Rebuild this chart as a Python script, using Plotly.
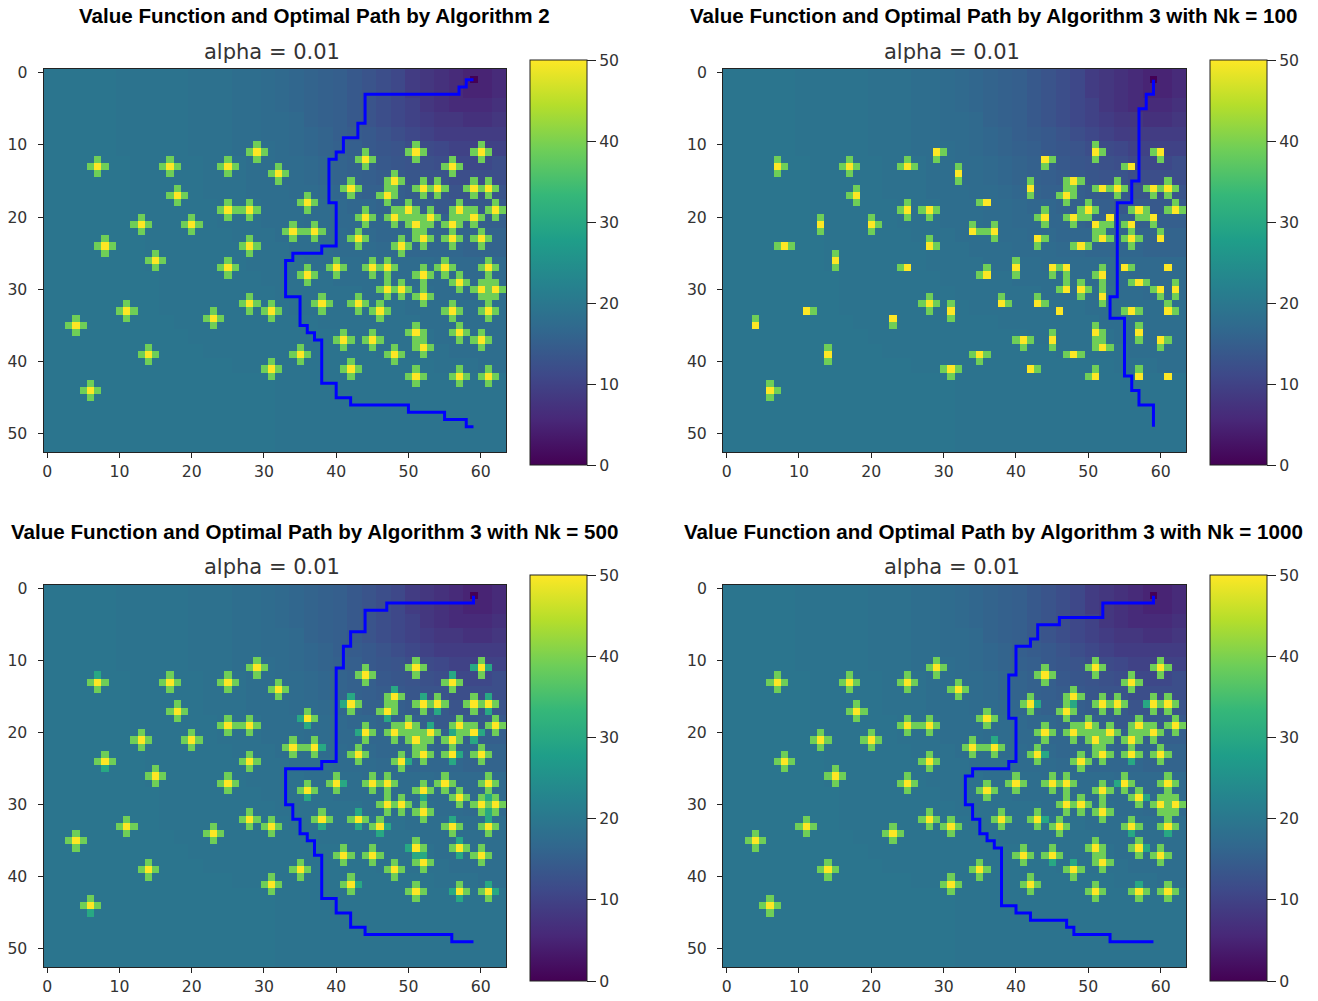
import numpy as np
import plotly.graph_objects as go

TITLES = ["Value Function and Optimal Path by Algorithm 2",
          "Value Function and Optimal Path by Algorithm 3 with Nk = 100",
          "Value Function and Optimal Path by Algorithm 3 with Nk = 500",
          "Value Function and Optimal Path by Algorithm 3 with Nk = 1000"]
SUBTITLE = "alpha = 0.01"
X_TICKS = [0, 10, 20, 30, 40, 50, 60]
Y_TICKS = [0, 10, 20, 30, 40, 50]
CBAR_TICKS = [0, 10, 20, 30, 40, 50]

# value read for each 2x2 block of cells; one character per block, base 36, capital = +0.5
BG_ROWS = [
    "JJJJJjjjjjIIIiiHhGgFfedcb9876556",
    "JJJJJjjjjjIIIiiHhGgFfedcb9876556",
    "JJJJJjjjjjIIIiiHhGgFfedcba876667",
    "JJJJJjjjjjIIIiiHHhgFfedcba988778",
    "JJJJJjjjjjIIIiiHHhGgfEedcba99999",
    "JJJJJjjjjjIIIiiiHhGgFfeDdcBbaaaa",
    "JJJJJJjjjjjIIIiiHHhGgFfeDdCcbbbc",
    "JJJJJJjjjjjIIIiiHHhGgFfEeDddcccc",
    "JJJJJJjjjjjIIIiiiHHhGgFFfEEedddd",
    "JJJJJJjjjjjjIIIiiiHHhGGgFFfeeeee",
    "JJJJJJjjjjjjIIIiiiHHhhGGgFFFffff",
    "JJJJJJJjjjjjjIIIiiiHHhhGGGGggggg",
    "JJJJJJJjjjjjjjIIIiiiHHHhhGGGGggg",
    "JJJJJJJjjjjjjjIIIIiiiiHHHHHhhhhh",
    "JJJJJJJJjjjjjjjIIIIIiiiiHHHHhhhh",
    "JJJJJJJJjjjjjjjjIIIIIIiiiiiHHhhh",
    "JJJJJJJJjjjjjjjjjIIIIIIIIiiiiiii",
    "JJJJJJJJJjjjjjjjjjjIIIIIIIiiiiii",
    "JJJJJJJJJJjjjjjjjjjjjIIIIIIiiiii",
    "JJJJJJJJJJJjjjjjjjjjjjjIIIIIiiii",
    "JJJJJJJJJJJJJjjjjjjjjjjjjjjIIIii",
    "JJJJJJJJJJJJJJJJjjjjjjjjjjjjjjjj",
    "JJJJJJJJJJJJJJJJjjjjjjjjjjjjjjjj",
    "JJJJJJJJJJJJJJJJjjjjjjjjjjjjjjjj",
    "JJJJJJJJJJJJJJJJjjjjjjjjjjjjjjjj",
    "JJJJJJJJJJJJJJJJjjjjjjjjjjjjjjjj",
    "JJJJJJJJJJJJJJJJjjjjjjjjjjjjjjjj",
]
GOAL = (59, 1)
GOAL_VALUE = 0
PEAK_VALUE = 50
ARM_VALUE = 39
LOW_ARM_VALUE = 30

PEAK_X = [29, 51, 60, 44, 7, 17, 25, 56, 32, 48, 42, 52, 54, 59, 61, 18, 47, 36, 25, 28, 50, 57, 62,
          44, 48, 53, 59, 13, 20, 51, 56, 34, 37, 43, 52, 56, 60, 8, 28, 49, 15, 25, 40, 45, 47, 55, 61,
          36, 52, 57, 47, 49, 60, 62, 52, 28, 38, 43, 11, 31, 46, 56, 61, 23, 4, 51, 57, 41, 45, 60,
          52, 14, 35, 48, 31, 42, 51, 57, 61, 6]
PEAK_Y = [11, 11, 11, 12, 13, 13, 13, 13, 14, 15, 16, 16, 16, 16, 16, 17, 17, 18, 19, 19, 19, 19, 19,
          20, 20, 20, 20, 21, 21, 21, 21, 22, 22, 23, 23, 23, 23, 24, 24, 24, 26, 27, 27, 27, 27, 27, 27,
          28, 28, 29, 30, 30, 30, 30, 31, 32, 32, 32, 33, 33, 33, 33, 33, 34, 35, 36, 36, 37, 37, 37,
          38, 39, 39, 39, 41, 41, 42, 42, 42, 44]
# arms visible around each peak in the Nk = 100 panel
ARMS_NK100 = ["SE", "NSE", "SW", "SE", "NSE", "NSEW", "NEW", "W", "NS", "SEW", "NS", "W", "NSEW", "SEW", "NSEW", "NSW", "NSEW", "W", "NSW", "SEW", "NSEW", "SEW", "NEW",
              "NSW", "SEW", "", "SW", "NS", "NSE", "ES", "SW", "NE", "NSW", "SE", "NEW", "NSEW", "N", "EW", "NE", "EW", "NS", "W", "NS", "SE", "SW", "E", "",
              "NW", "NSW", "EW", "NW", "NSE", "SW", "NS", "NS", "NSEW", "NE", "NE", "E", "NS", "", "EW", "NE", "S", "N", "NSE", "NS", "SEW", "NS", "SE",
              "NWE", "NS", "SEW", "EW", "SEW", "E", "NW", "N", "", "NSE"]
EXTRA_ARM_X = [61, 61]
EXTRA_ARM_Y = [29, 31]
EXTRA_ARM_NK100_X = [53]
EXTRA_ARM_NK100_Y = [21]
LOW_ARM_NK500_X = [59, 61, 56, 48, 42, 41, 52, 54, 61, 61, 47, 35, 36, 38, 53, 56, 59, 60, 43, 50, 57, 56, 41, 36, 52, 61, 61, 61, 38, 43, 43, 47, 46, 56, 57, 57, 50, 51, 52, 43, 57, 56, 62, 61, 7, 8, 6]
LOW_ARM_NK500_Y = [11, 11, 12, 14, 15, 16, 15, 17, 15, 17, 18, 18, 19, 22, 19, 20, 21, 20, 20, 24, 23, 24, 27, 29, 29, 29, 31, 32, 33, 31, 33, 33, 34, 32, 35, 37, 36, 37, 37, 41, 43, 42, 42, 41, 12, 25, 45]
LOW_ARM_NK1000_X = [37, 48, 43, 58, 44, 56, 54, 58, 44, 56, 61, 58, 45, 48, 57]
LOW_ARM_NK1000_Y = [21, 16, 16, 16, 23, 24, 27, 29, 32, 34, 34, 36, 38, 38, 41]

PATH_ALG2_X = [59, 58, 58, 57, 57, 44, 44, 43, 43, 41, 41, 40, 40, 39, 39, 40, 40, 38, 38, 34, 34, 33, 33, 35, 35, 36, 36, 37, 37, 38, 38, 40, 40, 42, 42, 50, 50, 55, 55, 58, 58, 59]
PATH_ALG2_Y = [1, 1, 2, 2, 3, 3, 7, 7, 9, 9, 11, 11, 12, 12, 18, 18, 24, 24, 25, 25, 26, 26, 31, 31, 35, 35, 36, 36, 37, 37, 43, 43, 45, 45, 46, 46, 47, 47, 48, 48, 49, 49]
PATH_NK100_X = [59, 59, 58, 58, 57, 57, 56, 56, 54, 54, 53, 53, 55, 55, 56, 56, 57, 57, 59, 59]
PATH_NK100_Y = [1, 3, 3, 5, 5, 15, 15, 18, 18, 31, 31, 34, 34, 42, 42, 44, 44, 46, 46, 49]
PATH_NK500_X = [59, 59, 47, 47, 44, 44, 42, 42, 41, 41, 40, 40, 38, 38, 33, 33, 34, 34, 35, 35, 36, 36, 37, 37, 38, 38, 40, 40, 42, 42, 44, 44, 56, 56, 59]
PATH_NK500_Y = [1, 2, 2, 3, 3, 6, 6, 8, 8, 11, 11, 24, 24, 25, 25, 30, 30, 32, 32, 34, 34, 35, 35, 37, 37, 43, 43, 45, 45, 47, 47, 48, 48, 49, 49]
PATH_NK1000_X = [59, 59, 52, 52, 46, 46, 43, 43, 42, 42, 40, 40, 39, 39, 40, 40, 39, 39, 34, 34, 33, 33, 34, 34, 35, 35, 36, 36, 37, 37, 38, 38, 40, 40, 42, 42, 47, 47, 48, 48, 53, 53, 59]
PATH_NK1000_Y = [1, 2, 2, 4, 4, 5, 5, 7, 7, 8, 8, 12, 12, 18, 18, 24, 24, 25, 25, 26, 26, 30, 30, 32, 32, 34, 34, 35, 35, 36, 36, 44, 44, 45, 45, 46, 46, 47, 47, 48, 48, 49, 49]

W, H = 1318, 1001
NX, NY = 64, 53
DIGITS = "0123456789abcdefghijklmnopqrstuvwxyz"
OFF = {"N": (0, -1), "S": (0, 1), "E": (1, 0), "W": (-1, 0)}


def read_level(ch):
    return DIGITS.index(ch.lower()) + (0.5 if ch.isupper() else 0.0)


def base_grid():
    z = np.zeros((NY, NX))
    for r in range(NY):
        row = BG_ROWS[r // 2]
        for c in range(NX):
            z[r, c] = read_level(row[c // 2])
    z[GOAL[1], GOAL[0]] = GOAL_VALUE
    return z


def build(arms, extra_x, extra_y, low_x=(), low_y=()):
    z = base_grid()
    for x, y, a in zip(PEAK_X, PEAK_Y, arms):
        for d in a:
            dx, dy = OFF[d]
            z[y + dy, x + dx] = ARM_VALUE
    for x, y in zip(extra_x, extra_y):
        z[y, x] = ARM_VALUE
    for x, y in zip(low_x, low_y):
        z[y, x] = LOW_ARM_VALUE
    for x, y in zip(PEAK_X, PEAK_Y):
        z[y, x] = PEAK_VALUE
    return z


FULL = ["NSEW"] * len(PEAK_X)
grids = [
    build(FULL, EXTRA_ARM_X, EXTRA_ARM_Y),
    build(ARMS_NK100, EXTRA_ARM_NK100_X, EXTRA_ARM_NK100_Y),
    build(FULL, EXTRA_ARM_X, EXTRA_ARM_Y, LOW_ARM_NK500_X, LOW_ARM_NK500_Y),
    build(FULL, EXTRA_ARM_X, EXTRA_ARM_Y, LOW_ARM_NK1000_X, LOW_ARM_NK1000_Y),
]
paths = [(PATH_ALG2_X, PATH_ALG2_Y), (PATH_NK100_X, PATH_NK100_Y),
         (PATH_NK500_X, PATH_NK500_Y), (PATH_NK1000_X, PATH_NK1000_Y)]

# pixel layout: axes left/right/top/bottom, colourbar left/top/bottom
AX = [(43.5, 506, 69, 452), (723, 1186, 69, 452), (43.5, 506, 585, 967), (723, 1186, 585, 967)]
CB = [(530, 60, 465), (1210, 60, 465), (530, 575, 981), (1210, 575, 981)]
TITLE_POS = [(314, 15), (993, 15), (314, 531), (993, 531)]
SUB_POS = [(272, 52), (952, 52), (272, 567), (952, 567)]

TICK_FONT = dict(family="DejaVu Sans", size=15.7, color="#333333")
fig = go.Figure()
layout = dict(width=W, height=H, margin=dict(l=0, r=0, t=0, b=0, autoexpand=False),
              paper_bgcolor="white", plot_bgcolor="white", showlegend=False)
annotations = []
for i in range(4):
    n = "" if i == 0 else str(i + 1)
    l, r, t, b = AX[i]
    cl, ct, cb = CB[i]
    fig.add_trace(go.Heatmap(
        z=grids[i].tolist(), x=list(range(NX)), y=list(range(NY)),
        xaxis="x" + n, yaxis="y" + n, colorscale="Viridis", zmin=0, zmax=50, hoverinfo="skip",
        colorbar=dict(x=cl / W, xanchor="left", xpad=0, ypad=0, y=1 - cb / H, yanchor="bottom",
                      lenmode="fraction", len=(cb - ct) / H, thicknessmode="pixels", thickness=57,
                      tickmode="array", tickvals=CBAR_TICKS, ticktext=[str(v) for v in CBAR_TICKS],
                      ticks="outside", ticklen=9, tickcolor="#222222", tickfont=TICK_FONT,
                      outlinecolor="#222222", outlinewidth=1)))
    fig.add_trace(go.Scatter(x=paths[i][0], y=paths[i][1], mode="lines",
                             line=dict(color="#0000ff", width=3), xaxis="x" + n, yaxis="y" + n,
                             hoverinfo="skip"))
    layout["xaxis" + n] = dict(domain=[l / W, r / W], range=[-0.5, 63.5], tickmode="array",
                               tickvals=X_TICKS, ticks="outside", ticklen=5, tickcolor="#222222",
                               showgrid=False, zeroline=False, showline=True, mirror=True,
                               linecolor="#222222", linewidth=1, tickfont=TICK_FONT,
                               ticklabelstandoff=0, anchor="y" + n)
    layout["yaxis" + n] = dict(domain=[1 - b / H, 1 - t / H], range=[52.5, -0.5], tickmode="array",
                               tickvals=Y_TICKS, ticks="outside", ticklen=5, tickcolor="#222222",
                               showgrid=False, zeroline=False, showline=True, mirror=True,
                               linecolor="#222222", linewidth=1, tickfont=TICK_FONT,
                               ticklabelstandoff=7, anchor="x" + n)
    annotations.append(dict(text="<b>%s</b>" % TITLES[i], xref="paper", yref="paper",
                            x=TITLE_POS[i][0] / W, y=1 - TITLE_POS[i][1] / H, xanchor="center",
                            yanchor="middle", showarrow=False,
                            font=dict(family="Liberation Sans", size=20.6, color="#000000")))
    annotations.append(dict(text=SUBTITLE, xref="paper", yref="paper",
                            x=SUB_POS[i][0] / W, y=1 - SUB_POS[i][1] / H, xanchor="center",
                            yanchor="middle", showarrow=False,
                            font=dict(family="DejaVu Sans", size=21, color="#333333")))
layout["annotations"] = annotations
fig.update_layout(**layout)
fig.write_html("out.html", config=dict(displayModeBar=False),
               post_script="document.body.style.margin='0';document.documentElement.style.overflow='hidden';")
